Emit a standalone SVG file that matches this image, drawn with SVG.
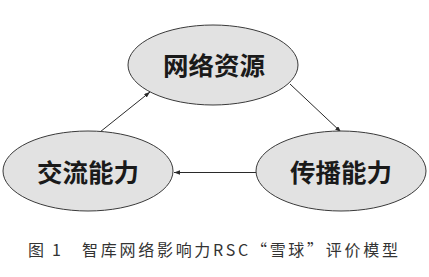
<svg xmlns="http://www.w3.org/2000/svg" width="429" height="277" viewBox="0 0 429 277">
<defs>
<style>
.node ellipse{fill:#e2e2e2;stroke:#3a3a3a;stroke-width:1}
.node text{font-family:"Noto Sans CJK SC","Liberation Serif",serif;font-weight:bold;font-size:25.5px;fill:#1a1a1a;text-anchor:middle}
.conn line{stroke:#2a2a2a;stroke-width:1;marker-end:url(#ah)}
.cap{font-family:"Noto Sans CJK SC","Liberation Sans",sans-serif;font-size:16px;fill:#333}
</style>
<marker id="ah" viewBox="0 0 8 6" refX="8" refY="3" markerWidth="6" markerHeight="4.5" orient="auto" markerUnits="userSpaceOnUse">
<path d="M0,0 L8,3 L0,6 Z" fill="#2a2a2a"/>
</marker>
</defs>
<rect width="429" height="277" fill="#fff"/>
<g id="connectors" class="conn">
<line x1="100" y1="132" x2="150" y2="92"/>
<line x1="290" y1="84" x2="341" y2="132"/>
<line x1="256" y1="172.5" x2="174" y2="172.5"/>
</g>
<g id="node-top" class="node">
<ellipse cx="213" cy="65" rx="85" ry="40"/>
<text x="214" y="75">网络资源</text>
</g>
<g id="node-left" class="node">
<ellipse cx="88" cy="171" rx="85" ry="40"/>
<text x="88" y="182">交流能力</text>
</g>
<g id="node-right" class="node">
<ellipse cx="341" cy="171" rx="85" ry="40"/>
<text x="341" y="182">传播能力</text>
</g>
<text class="cap" x="28" y="256" textLength="33" lengthAdjust="spacing">图 1</text>
<text class="cap" x="82" y="256" textLength="316" lengthAdjust="spacing">智库网络影响力RSC“雪球”评价模型</text>
</svg>
